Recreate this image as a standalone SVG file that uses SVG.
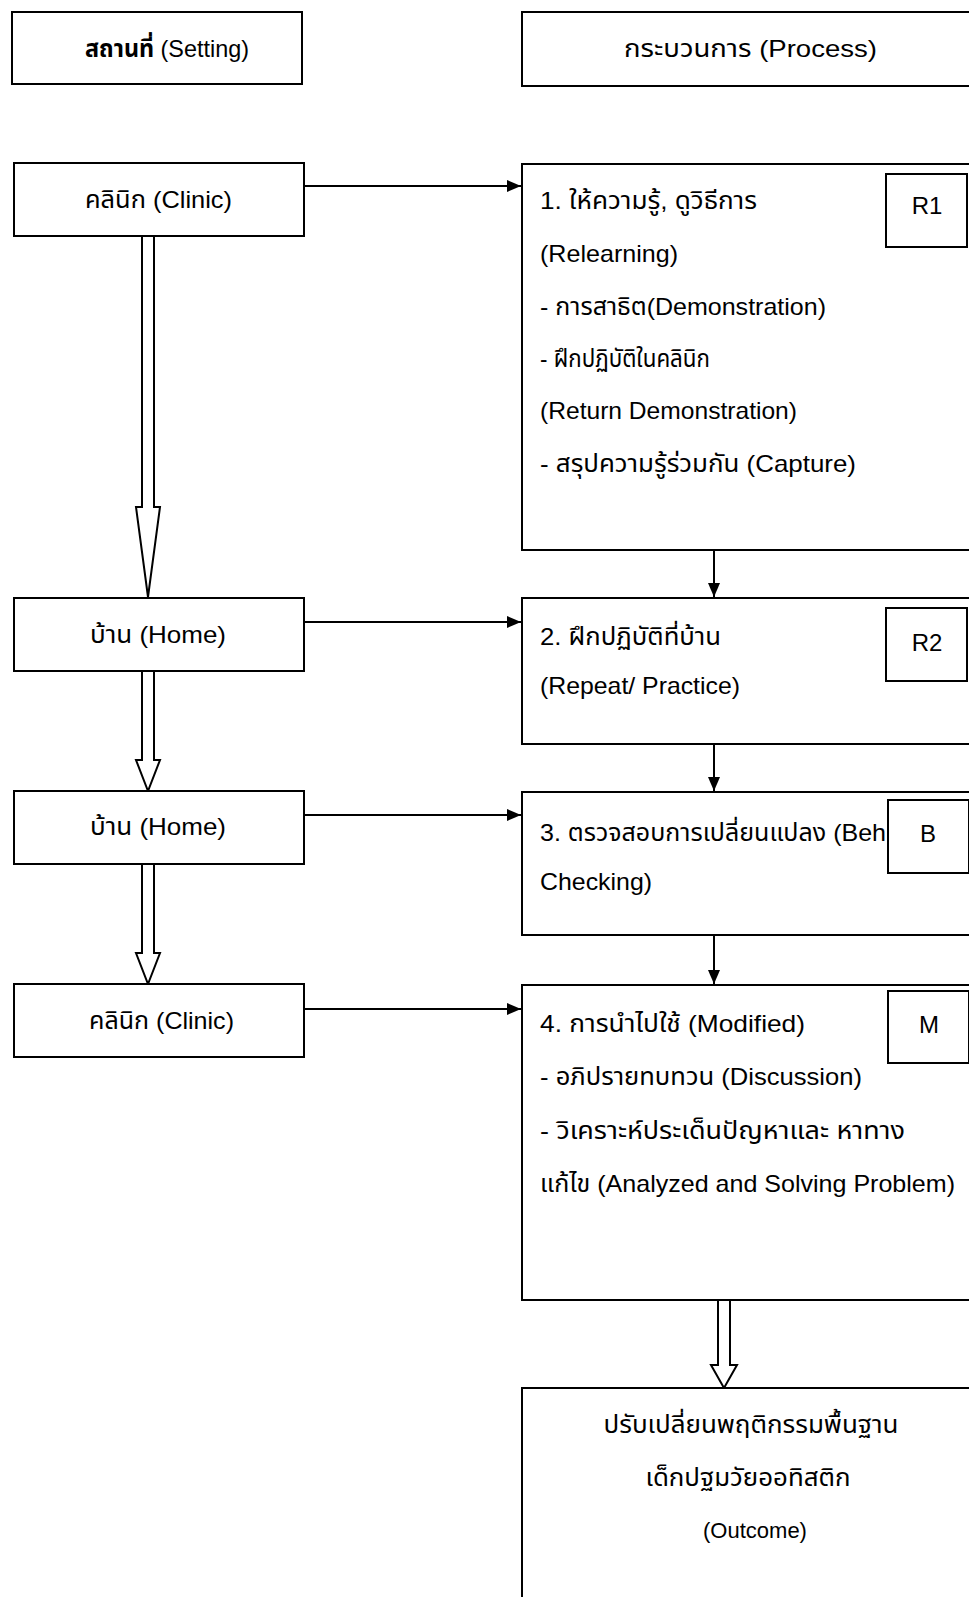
<svg xmlns="http://www.w3.org/2000/svg" width="969" height="1597" viewBox="0 0 969 1597">
<defs>
<style>
.box{fill:#fff;stroke:#000;stroke-width:2}
.t{font-family:"Liberation Sans","Noto Sans Thai","Loma","Garuda",sans-serif;font-size:24px;fill:#000}
.tb{font-family:"Liberation Sans","Noto Sans Thai","Loma","Garuda",sans-serif;font-size:24px;fill:#000}
.c{text-anchor:middle}
.ln{stroke:#000;stroke-width:2;fill:none}
.hollow{fill:#fff;stroke:#000;stroke-width:2;stroke-linejoin:miter}
</style>
<marker id="ah" viewBox="0 0 14 12" refX="14" refY="6" markerWidth="14" markerHeight="12" markerUnits="userSpaceOnUse" orient="auto">
<path d="M0,0 L14,6 L0,12 Z" fill="#000"/>
</marker>
</defs>
<rect width="969" height="1597" fill="#fff"/>

<g id="connectors">
<line class="ln" x1="304" y1="186" x2="521" y2="186" marker-end="url(#ah)"/>
<line class="ln" x1="304" y1="622" x2="521" y2="622" marker-end="url(#ah)"/>
<line class="ln" x1="304" y1="815" x2="521" y2="815" marker-end="url(#ah)"/>
<line class="ln" x1="304" y1="1009" x2="521" y2="1009" marker-end="url(#ah)"/>
<line class="ln" x1="714" y1="550" x2="714" y2="597" marker-end="url(#ah)"/>
<line class="ln" x1="714" y1="744" x2="714" y2="791" marker-end="url(#ah)"/>
<line class="ln" x1="714" y1="935" x2="714" y2="984" marker-end="url(#ah)"/>
<polygon class="hollow" points="142,236 154,236 154,507 160,507 148,597 136,507 142,507"/>
<polygon class="hollow" points="142,671 154,671 154,760 160,760 148,791 136,760 142,760"/>
<polygon class="hollow" points="142,864 154,864 154,953 160,953 148,984 136,953 142,953"/>
<polygon class="hollow" points="718,1293 730,1293 730,1365 737,1365 724,1388 711,1365 718,1365"/>
</g>

<g id="setting">
<rect class="box" x="12" y="12" width="290" height="72"/>
<text class="t" x="85" y="57" textLength="164" lengthAdjust="spacingAndGlyphs"><tspan font-weight="bold">สถานที่</tspan> (Setting)</text>
</g>
<g id="process">
<rect class="box" x="522" y="12" width="460" height="74"/>
<text class="t" x="624" y="57" textLength="253" lengthAdjust="spacingAndGlyphs">กระบวนการ (Process)</text>
</g>

<g id="clinic1">
<rect class="box" x="14" y="163" width="290" height="73"/>
<text class="t" x="85" y="208" textLength="147" lengthAdjust="spacingAndGlyphs">คลินิก (Clinic)</text>
</g>
<g id="home1">
<rect class="box" x="14" y="598" width="290" height="73"/>
<text class="t" x="90" y="643" textLength="136" lengthAdjust="spacingAndGlyphs">บ้าน (Home)</text>
</g>
<g id="home2">
<rect class="box" x="14" y="791" width="290" height="73"/>
<text class="t" x="90" y="835" textLength="136" lengthAdjust="spacingAndGlyphs">บ้าน (Home)</text>
</g>
<g id="clinic2">
<rect class="box" x="14" y="984" width="290" height="73"/>
<text class="t" x="89" y="1029" textLength="145" lengthAdjust="spacingAndGlyphs">คลินิก (Clinic)</text>
</g>

<g id="step1">
<rect class="box" x="522" y="164" width="460" height="386"/>
<text class="tb" x="540" y="209" textLength="217" lengthAdjust="spacingAndGlyphs">1. ให้ความรู้, ดูวิธีการ</text>
<text class="tb" x="540" y="262" textLength="138" lengthAdjust="spacingAndGlyphs">(Relearning)</text>
<text class="tb" x="540" y="315" textLength="286" lengthAdjust="spacingAndGlyphs">- การสาธิต(Demonstration)</text>
<text class="tb" x="540" y="367" textLength="170" lengthAdjust="spacingAndGlyphs">- ฝึกปฏิบัติในคลินิก</text>
<text class="tb" x="540" y="419" textLength="257" lengthAdjust="spacingAndGlyphs">(Return Demonstration)</text>
<text class="tb" x="540" y="472" textLength="316" lengthAdjust="spacingAndGlyphs">- สรุปความรู้ร่วมกัน (Capture)</text>
</g>
<g id="r1">
<rect class="box" x="886" y="174" width="81" height="73"/>
<text class="tb c" x="927" y="214">R1</text>
</g>

<g id="step2">
<rect class="box" x="522" y="598" width="460" height="146"/>
<text class="t" x="540" y="645" textLength="181" lengthAdjust="spacingAndGlyphs">2. ฝึกปฏิบัติที่บ้าน</text>
<text class="t" x="540" y="694" textLength="200" lengthAdjust="spacingAndGlyphs">(Repeat/ Practice)</text>
</g>
<g id="r2">
<rect class="box" x="886" y="608" width="81" height="73"/>
<text class="tb c" x="927" y="651">R2</text>
</g>

<g id="step3">
<rect class="box" x="522" y="792" width="460" height="143"/>
<text class="t" x="540" y="841" textLength="346" lengthAdjust="spacingAndGlyphs">3. ตรวจสอบการเปลี่ยนแปลง (Beh</text>
<text class="t" x="540" y="890" textLength="112" lengthAdjust="spacingAndGlyphs">Checking)</text>
</g>
<g id="b">
<rect class="box" x="888" y="800" width="81" height="73"/>
<text class="tb c" x="928" y="842">B</text>
</g>

<g id="step4">
<rect class="box" x="522" y="985" width="460" height="315"/>
<text class="t" x="540" y="1032" textLength="265" lengthAdjust="spacingAndGlyphs">4. การนำไปใช้ (Modified)</text>
<text class="t" x="540" y="1085" textLength="322" lengthAdjust="spacingAndGlyphs">- อภิปรายทบทวน (Discussion)</text>
<text class="t" x="540" y="1139" textLength="365" lengthAdjust="spacingAndGlyphs">- วิเคราะห์ประเด็นปัญหาและ หาทาง</text>
<text class="t" x="540" y="1192" textLength="415" lengthAdjust="spacingAndGlyphs">แก้ไข (Analyzed and Solving Problem)</text>
</g>
<g id="m">
<rect class="box" x="888" y="991" width="81" height="72"/>
<text class="tb c" x="929" y="1033">M</text>
</g>

<g id="outcome">
<rect class="box" x="522" y="1388" width="460" height="230"/>
<text class="tb c" x="751" y="1433" textLength="295" lengthAdjust="spacingAndGlyphs">ปรับเปลี่ยนพฤติกรรมพื้นฐาน</text>
<text class="tb c" x="748" y="1486" textLength="205" lengthAdjust="spacingAndGlyphs">เด็กปฐมวัยออทิสติก</text>
<text class="tb c" x="755" y="1538" style="font-size:22px">(Outcome)</text>
</g>
</svg>
